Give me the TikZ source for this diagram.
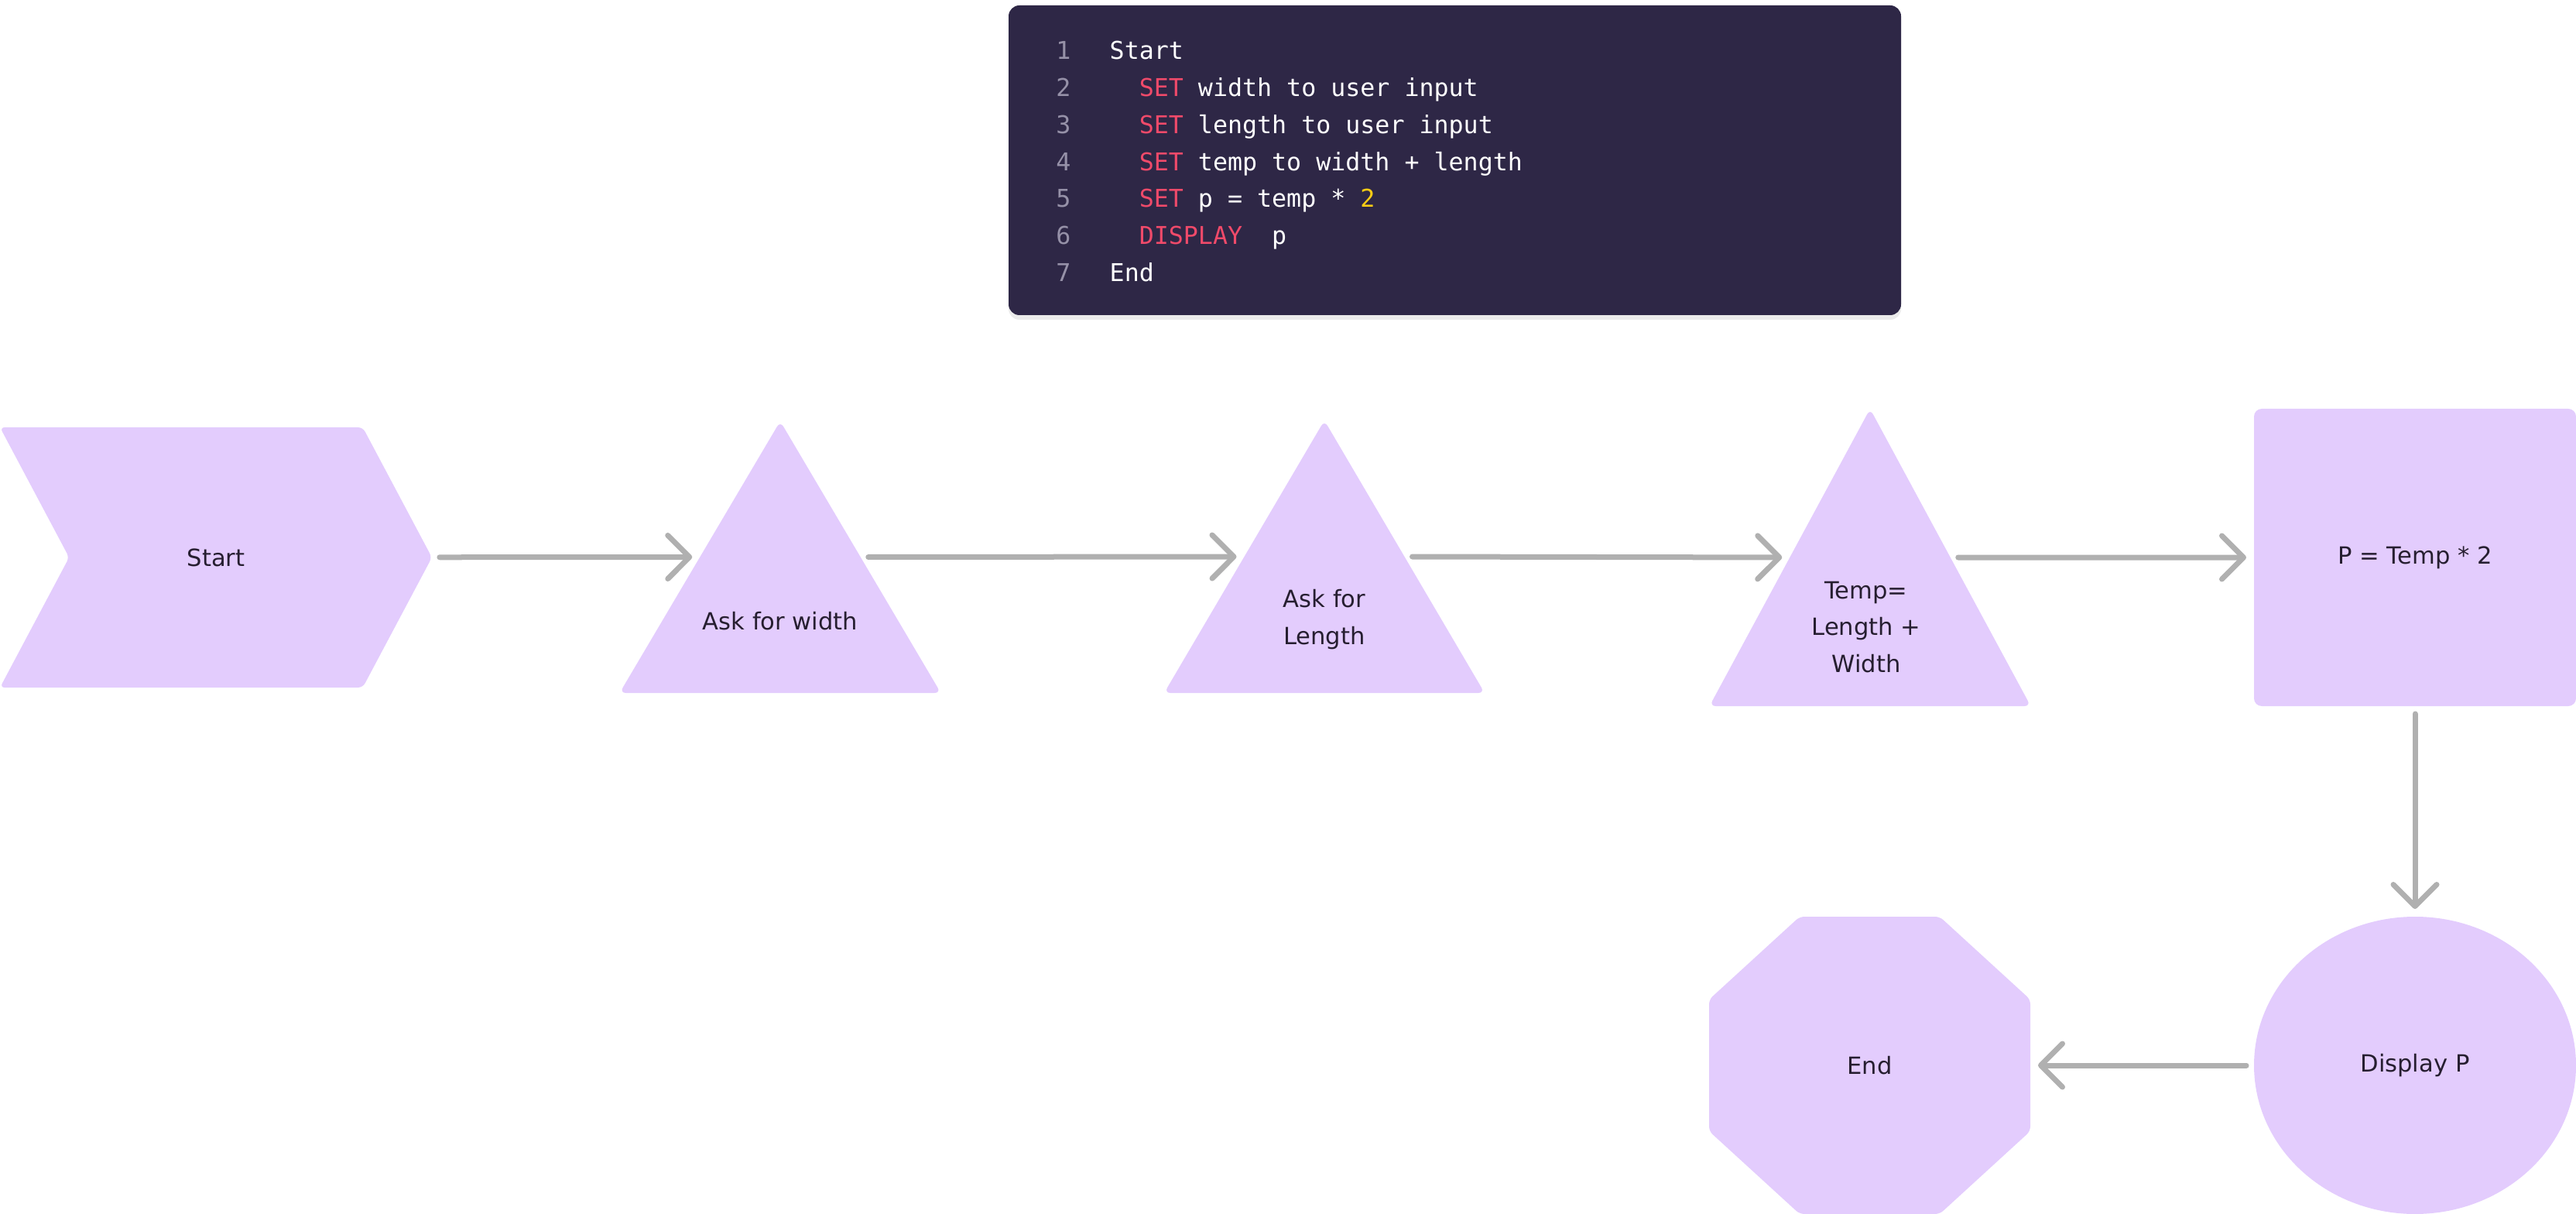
\documentclass[tikz,border=0pt]{standalone}
\usepackage{fontspec}
\setmainfont{DejaVu Sans}
\setmonofont{DejaVu Sans Mono}
\usetikzlibrary{shapes.geometric,shapes.symbols,arrows.meta}

\definecolor{lilas}{RGB}{227,204,253}
\definecolor{cinza}{RGB}{176,176,176}
\definecolor{tinta}{RGB}{38,30,48}
\definecolor{painel}{RGB}{46,39,70}
\definecolor{numcor}{RGB}{150,145,168}
\definecolor{kwcor}{RGB}{240,74,106}
\definecolor{numlit}{RGB}{250,204,21}

\newcommand{\kw}[1]{\textcolor{kwcor}{#1}}

\tikzset{
	forma/.style={fill=lilas, inner sep=0pt, outer sep=0pt, text=tinta, font=\fontsize{8.7}{13.5}\selectfont},
	triangulo/.style={forma, isosceles triangle, isosceles triangle stretches, shape border rotate=90, rounded corners=0.08cm, anchor=apex},
	rotulo/.style={text=tinta, align=center, inner sep=0pt, font=\fontsize{8.7}{13.5}\selectfont},
	seta/.style={draw=cinza, line width=0.07cm, line cap=round, shorten <=0.1cm, shorten >=0.1cm,
		-{Straight Barb[length=0.28cm, width=0.56cm, line cap=round, line join=round]}},
	codigo/.style={text=white, inner sep=0pt, anchor=base west, font=\ttfamily\fontsize{9}{13.6}\selectfont},
	numlinha/.style={text=numcor, inner sep=0pt, anchor=base, font=\ttfamily\fontsize{9}{13.6}\selectfont}
}

\begin{document}
\begin{tikzpicture}
	\useasboundingbox (0,0) rectangle (33.28,-15.68);
	
	% Painel do pseudocodigo
	\fill[black, opacity=0.08, rounded corners=0.14cm] (13.03,-0.11) rectangle (24.56,-4.13);	% sombra
	\node[fill=painel, rounded corners=0.14cm, minimum width=11.53cm, minimum height=4.0cm, inner sep=0pt] (painel) at (18.795,-2.07) {};
	\foreach \n/\linha in {1/{Start},
			2/{\ \ \kw{SET} width to user input},
			3/{\ \ \kw{SET} length to user input},
			4/{\ \ \kw{SET} temp to width + length},
			5/{\ \ \kw{SET} p = temp * \textcolor{numlit}{2}},
			6/{\ \ \kw{DISPLAY}\ \ p},
			7/{End}}{
		\node[numlinha] (n\n) at (13.74,{-0.77-0.477*(\n-1)}) {\n};
		\node[codigo] (c\n) at (14.33,{-0.77-0.477*(\n-1)}) {\linha};
	}
	
	% Formas do fluxograma
	\node[forma, signal, signal to=east, signal from=west, signal pointer angle=124,
		minimum width=5.58cm, minimum height=3.36cm, rounded corners=0.06cm] (inicio) at (2.79,-7.20) {Start};	% inicio
	\node[triangulo, minimum width=4.15cm, minimum height=3.51cm] (larg) at (10.08,-5.44) {};		% entrada largura
	\node[rotulo] (larg-txt) at (10.08,-8.02) {Ask for width};
	\node[triangulo, minimum width=4.14cm, minimum height=3.52cm] (comp) at (17.11,-5.43) {};		% entrada comprimento
	\node[rotulo] (comp-txt) at (17.11,-8.00) {Ask for\\Length};
	\node[triangulo, minimum width=4.15cm, minimum height=3.84cm] (soma) at (24.16,-5.28) {};		% soma
	\node[rotulo] (soma-txt) at (24.11,-8.10) {Temp=\\Length +\\Width};
	\node[forma, rectangle, rounded corners=0.1cm, minimum width=4.16cm, minimum height=3.84cm] (dobro) at (31.20,-7.20) {P = Temp * 2};	% produto
	\node[forma, ellipse, minimum width=4.16cm, minimum height=3.84cm] (mostra) at (31.20,-13.76) {Display P};	% saida
	\node[minimum width=4.15cm, minimum height=3.84cm, inner sep=0pt, outer sep=0pt] (fim) at (24.155,-13.76) {};	% fim (caixa)
	\fill[lilas, rounded corners=0.06cm] ([xshift=1.17cm]fim.north west) -- ([xshift=-1.17cm]fim.north east)
		-- ([yshift=-1.07cm]fim.north east) -- ([yshift=1.07cm]fim.south east)
		-- ([xshift=-1.17cm]fim.south east) -- ([xshift=1.17cm]fim.south west)
		-- ([yshift=1.07cm]fim.south west) -- ([yshift=-1.07cm]fim.north west) -- cycle;	% octogono
	\node[rotulo] (fim-txt) at (fim) {End};
	
	% Conectores
	\draw[seta] (inicio) -- (larg.left side);
	\draw[seta] (larg.right side) -- (comp.left side);
	\draw[seta] (comp.right side) -- (soma.left side);
	\draw[seta] (soma.right side) -- (dobro);
	\draw[seta] (dobro) -- (mostra);
	\draw[seta] (mostra) -- (fim);
\end{tikzpicture}
\end{document}
